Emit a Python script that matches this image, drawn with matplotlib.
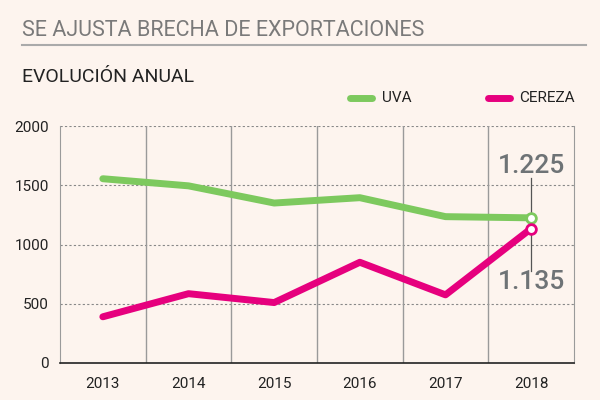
import matplotlib
matplotlib.use("Agg")
import matplotlib.pyplot as plt
from matplotlib.lines import Line2D

years = ["2013", "2014", "2015", "2016", "2017", "2018"]
uva = [1555, 1495, 1350, 1395, 1235, 1225]
cereza = [390, 585, 510, 850, 575, 1135]
yticks = [0, 500, 1000, 1500, 2000]
title = "SE AJUSTA BRECHA DE EXPORTACIONES"
subtitle = "EVOLUCIÓN ANUAL"
label_uva = "1.225"
label_cereza = "1.135"

BG = "#fdf4ee"
GREEN = "#7dc95e"
PINK = "#e6007e"
GRAY_TXT = "#6e7376"
plt.rcParams['font.family'] = ["Roboto", "DejaVu Sans"]

fig = plt.figure(figsize=(6, 4), dpi=100, facecolor=BG)
ax = fig.add_axes([0.1, 0.0925, 0.8567, 0.5925], facecolor=BG)

x = list(range(len(years)))
ax.plot(x, uva, color=GREEN, lw=5, solid_capstyle='round', solid_joinstyle='round', zorder=3)
ax.plot(x, cereza, color=PINK, lw=5, solid_capstyle='round', solid_joinstyle='round', zorder=3)
ax.plot(x[-1], uva[-1], 'o', ms=7, mfc='white', mec=GREEN, mew=2, zorder=5)
ax.plot(x[-1], cereza[-1], 'o', ms=7, mfc='white', mec=PINK, mew=2, zorder=5)

ax.set_xlim(-0.5, len(years) - 0.5)
ax.set_ylim(0, 2000)
ax.set_yticks(yticks)
ax.set_yticklabels([str(v) for v in yticks])
ax.set_xticks(x)
ax.set_xticklabels(years)
ax.tick_params(length=0, labelsize=11, colors="#222222", pad=8)
ax.tick_params(axis='x', pad=10)

for v in yticks[1:]:
    ax.axhline(v, color="#888888", lw=0.8, ls=(0, (2, 2)), zorder=1)
for b in range(1, len(years)):
    ax.axvline(b - 0.5, color="#9a9a9a", lw=1, zorder=1)

ax.spines['top'].set_visible(False)
ax.spines['left'].set_color("#9a9a9a")
ax.spines['right'].set_color("#9a9a9a")
ax.spines['bottom'].set_color("#222222")
ax.spines['bottom'].set_linewidth(1.2)

# annotations
ax.plot([x[-1], x[-1]], [uva[-1], 1565], color="#555555", lw=0.9, zorder=2)
ax.plot([x[-1], x[-1]], [cereza[-1], 780], color="#555555", lw=0.9, zorder=2)
ax.text(x[-1], 1660, label_uva, ha='center', va='center', fontsize=19, color=GRAY_TXT, fontweight='medium')
ax.text(x[-1], 680, label_cereza, ha='center', va='center', fontsize=19, color=GRAY_TXT, fontweight='medium')

# titles
fig.text(22 / 600, 1 - 31 / 400, title, fontsize=15.5, color="#7a7a7a", ha='left', va='center')
fig.add_artist(Line2D([22 / 600, 586 / 600], [1 - 45 / 400] * 2, color="#aaaaaa", lw=1.5))
fig.text(22 / 600, 1 - 77 / 400, subtitle, fontsize=14, color="#222222", ha='left', va='center')

# legend
y_leg = 1 - 98 / 400
fig.add_artist(Line2D([350 / 600, 372 / 600], [y_leg] * 2, color=GREEN, lw=5, solid_capstyle='round'))
fig.text(382 / 600, y_leg, "UVA", fontsize=11, color="#222222", ha='left', va='center')
fig.add_artist(Line2D([488 / 600, 510 / 600], [y_leg] * 2, color=PINK, lw=5, solid_capstyle='round'))
fig.text(519 / 600, y_leg, "CEREZA", fontsize=11, color="#222222", ha='left', va='center')

fig.savefig("out.png", dpi=100, facecolor=BG)
